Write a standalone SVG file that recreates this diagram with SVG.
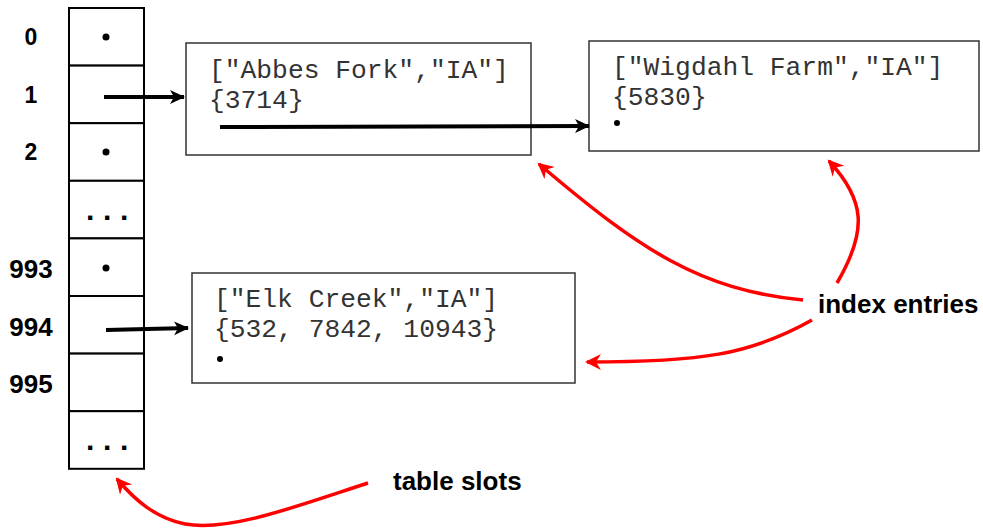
<svg xmlns="http://www.w3.org/2000/svg" width="983" height="532" viewBox="0 0 983 532">
<style>
.lbl{font-family:"Liberation Sans",Arial,sans-serif;font-weight:bold;fill:#000;}
.mono{font-family:"Liberation Mono","Courier New",monospace;font-size:26.3px;fill:#333;}
.box{fill:#fff;stroke:#333;stroke-width:1.5;}
.cell{fill:#fff;stroke:#000;stroke-width:2;}
.blk{fill:none;stroke:#000;stroke-width:4;}
.red{fill:none;stroke:#f00;stroke-width:3.5;}
.ell{font-family:"Liberation Sans",Arial,sans-serif;font-weight:bold;font-size:30px;fill:#000;letter-spacing:8.7px;}
</style>
<defs>
<marker id="ab" markerUnits="userSpaceOnUse" markerWidth="20" markerHeight="20" refX="14" refY="7" orient="auto">
<path d="M0,0 L15,7 L0,14 L4,7 z" fill="#000"/>
</marker>
<marker id="ar" markerUnits="userSpaceOnUse" markerWidth="20" markerHeight="20" refX="14" refY="8" orient="auto">
<path d="M0,0 L16,8 L0,16 L5,8 z" fill="#f00"/>
</marker>
</defs>
<g id="table">
<rect class="cell" x="69" y="8" width="75" height="57.6"/>
<rect class="cell" x="69" y="65.6" width="75" height="57.6"/>
<rect class="cell" x="69" y="123.2" width="75" height="57.6"/>
<rect class="cell" x="69" y="180.8" width="75" height="57.6"/>
<rect class="cell" x="69" y="238.4" width="75" height="57.6"/>
<rect class="cell" x="69" y="296" width="75" height="57.6"/>
<rect class="cell" x="69" y="353.6" width="75" height="57.6"/>
<rect class="cell" x="69" y="411.2" width="75" height="57.6"/>
<circle cx="106" cy="37" r="3.5"/>
<circle cx="106" cy="152" r="3.5"/>
<circle cx="106" cy="268" r="3.5"/>
<text class="ell" x="86" y="220">...</text>
<text class="ell" x="86" y="450">...</text>
</g>
<g id="row-labels" class="lbl" text-anchor="middle">
<text x="31" y="45" font-size="23">0</text>
<text x="31" y="103" font-size="23">1</text>
<text x="31" y="160" font-size="23">2</text>
<text x="31" y="278" font-size="26">993</text>
<text x="31" y="336" font-size="26">994</text>
<text x="31" y="393" font-size="26">995</text>
</g>
<g id="entry-abbes">
<rect class="box" x="186" y="43" width="345" height="112"/>
<text class="mono" x="209" y="78">["Abbes Fork","IA"]</text>
<text class="mono" x="209" y="108">{3714}</text>
</g>
<g id="entry-wigdahl">
<rect class="box" x="589" y="41" width="390" height="110"/>
<text class="mono" x="612" y="75">["Wigdahl Farm","IA"]</text>
<text class="mono" x="612" y="105">{5830}</text>
<circle cx="617" cy="123" r="3"/>
</g>
<g id="entry-elk">
<rect class="box" x="192" y="273" width="383" height="110"/>
<text class="mono" x="214" y="307">["Elk Creek","IA"]</text>
<text class="mono" x="214" y="337">{532, 7842, 10943}</text>
<circle cx="220" cy="359" r="3"/>
</g>
<g id="label-index">
<text class="lbl" x="818" y="313" font-size="26">index entries</text>
</g>
<g id="label-slots">
<text class="lbl" x="393" y="490" font-size="26">table slots</text>
</g>
<g id="connectors">
<path class="blk" d="M104,97 L184,97" marker-end="url(#ab)"/>
<path class="blk" d="M220,127 L589,126" marker-end="url(#ab)"/>
<path class="blk" d="M106,330 L188,328" marker-end="url(#ab)"/>
<path class="red" d="M803,300 C700,290 640,250 539,164" marker-end="url(#ar)"/>
<path class="red" d="M837,283 C868,230 865,200 829,161" marker-end="url(#ar)"/>
<path class="red" d="M812,320 C750,355 700,362 587,362" marker-end="url(#ar)"/>
<path class="red" d="M368,483 C300,505 230,532 185,524 C155,518 135,500 117,479" marker-end="url(#ar)"/>
</g>
</svg>
